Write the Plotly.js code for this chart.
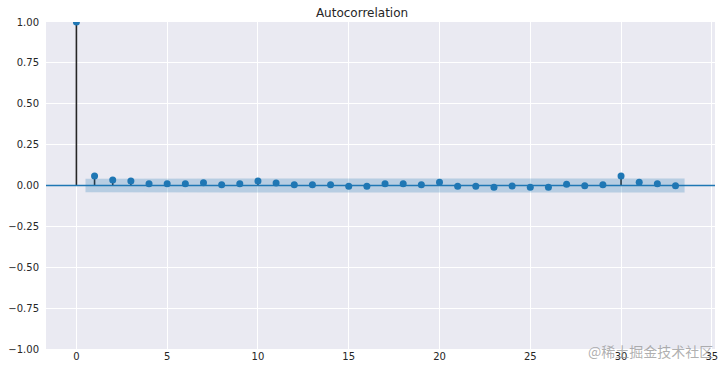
<!DOCTYPE html>
<html>
<head>
<meta charset="utf-8">
<script src="https://cdn.plot.ly/plotly-3.0.1.min.js"></script>
<style>html,body{margin:0;padding:0;background:#fff;}#chart{width:724px;height:373px;}</style>
</head>
<body>
<div id="chart"></div>
<script>
// Data
const lags = [0,1,2,3,4,5,6,7,8,9,10,11,12,13,14,15,16,17,18,19,20,21,22,23,24,25,26,27,28,29,30,31,32,33];
const acfValues = [1.0,0.058,0.033,0.027,0.011,0.011,0.011,0.017,0.004,0.011,0.027,0.015,0.004,0.004,0.004,-0.004,-0.004,0.010,0.010,0.004,0.020,-0.004,-0.004,-0.010,-0.003,-0.010,-0.010,0.008,-0.002,0.004,0.058,0.020,0.010,-0.002];
const bandLags = [0.5,2,3,4,5,6,7,8,9,10,11,12,13,14,15,16,17,18,19,20,21,22,23,24,25,26,27,28,29,30,31,32,33.5];
const bandHalf = [0.0420,0.0422,0.0423,0.0423,0.0423,0.0423,0.0423,0.0424,0.0424,0.0424,0.0425,0.0425,0.0425,0.0425,0.0425,0.0425,0.0425,0.0425,0.0425,0.0425,0.0426,0.0426,0.0426,0.0426,0.0426,0.0426,0.0426,0.0426,0.0426,0.0426,0.0429,0.0429,0.0429];
const xTicks = [0,5,10,15,20,25,30,35];
const yTicks = [-1,-0.75,-0.5,-0.25,0,0.25,0.5,0.75,1];
const xRange = [-1.675, 35.175];
const titleText = 'Autocorrelation';
const watermark = '@稀土掘金技术社区';

const C0 = '#1f77b4';

// stems
const sx = [], sy = [];
lags.forEach((l,i)=>{ sx.push(l,l,null); sy.push(0,acfValues[i],null); });

const traces = [
  { x: sx, y: sy, mode:'lines', line:{color:'#262626', width:1.6}, hoverinfo:'skip', showlegend:false },
  { x: xRange, y: [0,0], mode:'lines', line:{color:C0, width:1.6}, hoverinfo:'skip', showlegend:false },
  { x: lags, y: acfValues, mode:'markers', marker:{color:C0, size:7}, showlegend:false },
  { x: bandLags, y: bandHalf.map(v=>-v), mode:'lines', line:{width:0}, hoverinfo:'skip', showlegend:false },
  { x: bandLags, y: bandHalf, mode:'lines', line:{width:0}, fill:'tonexty', fillcolor:'rgba(31,119,180,0.25)', hoverinfo:'skip', showlegend:false }
];

const layout = {
  width:724, height:373,
  margin:{l:46, r:9, t:22, b:24},
  paper_bgcolor:'#ffffff',
  plot_bgcolor:'#EAEAF2',
  font:{family:'DejaVu Sans', color:'#262626', size:10},
  title:{text:titleText, font:{family:'DejaVu Sans', size:12, color:'#262626'}, x:0.5, xanchor:'center', y:0.965, yanchor:'middle'},
  xaxis:{range:xRange, tickvals:xTicks, ticktext:xTicks.map(String), showgrid:true, gridcolor:'#ffffff', gridwidth:1, zeroline:false, showline:false, ticks:'', ticklen:0, tickfont:{size:10, color:'#262626'}},
  yaxis:{range:[-1,1], tickvals:yTicks, tickformat:'.2f', showgrid:true, gridcolor:'#ffffff', gridwidth:1, zeroline:false, showline:false, ticks:'', ticklabelstandoff:6, tickfont:{size:10, color:'#262626'}},
  annotations:[{text:watermark, xref:'paper', yref:'paper', x:1.0, y:-0.005, xanchor:'right', yanchor:'middle', showarrow:false, font:{family:'Noto Sans CJK SC', size:14, color:'rgba(150,150,150,0.75)'}}]
};

Plotly.newPlot('chart', traces, layout, {displayModeBar:false, staticPlot:true});
</script>
</body>
</html>
